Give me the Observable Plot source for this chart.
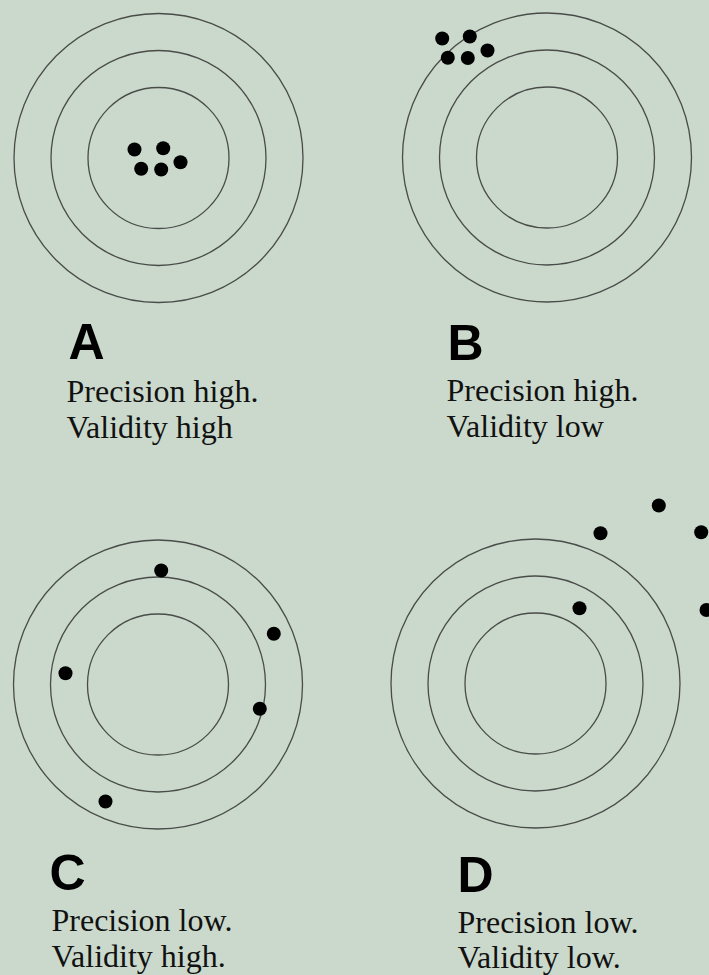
<!DOCTYPE html>
<html>
<head>
<meta charset="utf-8">
<script src="https://cdn.jsdelivr.net/npm/d3@7"></script>
<script src="https://cdn.jsdelivr.net/npm/@observablehq/plot@0.6"></script>
<style>
  html, body { margin: 0; padding: 0; background: #cad9cb; overflow: hidden; }
  #chart svg { display: block; }
</style>
</head>
<body>
<div id="chart"></div>
<script>
// ---- Data ----
const panels = ["A", "B", "C", "D"];
const precisionText = ["Precision high.", "Precision high.", "Precision low.", "Precision low."];
const validityText = ["Validity high", "Validity low", "Validity high.", "Validity low."];

// target centres and ring radii (same units as the picture)
const centerX = [158, 546.5, 157.5, 535];
const centerY = [157.5, 157, 684, 683];
const ringRadii = [70.5, 107.5, 144.5];

// hits (shots) per panel
const hitPanel = ["A","A","A","A","A", "B","B","B","B","B", "C","C","C","C","C", "D","D","D","D","D"];
const hitX = [134, 162.7, 140.7, 160.7, 180,   441.7, 469.3, 447.3, 467.3, 487,   160.7, 273.3, 65, 259.3, 105,   658.3, 600, 700.7, 579, 706];
const hitY = [149, 147.7, 168.3, 169, 161.7,   38, 36, 57.3, 57.5, 50,   570, 633.3, 672.7, 708.3, 801,   505, 532.7, 531.7, 607.7, 609.5];

// ---- Layout ----
const W = 709, H = 975;
const BG = "#cad9cb";
const labelX = [68, 447, 49, 457];
const labelY = [358, 359, 889, 891];
const captionX = [66, 446, 51, 457];
const line1Y = [401.5, 400, 930, 932];
const line2Y = [437, 436.5, 966, 967];

const centers = panels.map((p, i) => ({panel: p, x: centerX[i], y: centerY[i]}));
const hits = hitPanel.map((p, i) => ({panel: p, x: hitX[i], y: hitY[i]}));
const labels = panels.map((p, i) => ({text: p, x: labelX[i], y: labelY[i]}));
const captions = panels.flatMap((p, i) => [
  {text: precisionText[i], x: captionX[i], y: line1Y[i]},
  {text: validityText[i], x: captionX[i], y: line2Y[i]}
]);

const chart = Plot.plot({
  width: W,
  height: H,
  margin: 0,
  x: {domain: [0, W], range: [0, W], axis: null},
  y: {domain: [0, H], range: [0, H], axis: null},
  style: {background: BG, overflow: "hidden"},
  marks: [
    ...ringRadii.map(r => Plot.dot(centers, {x: "x", y: "y", r, fill: "none", stroke: "#333", strokeWidth: 1.3, strokeOpacity: 0.85})),
    Plot.dot(hits, {x: "x", y: "y", r: 7, fill: "#000", stroke: "none"}),
    Plot.text(labels, {x: "x", y: "y", text: "text", textAnchor: "start", lineAnchor: "bottom",
      fontFamily: "Liberation Sans, Arial, sans-serif", fontWeight: "bold", fontSize: 50, fill: "#000"}),
    Plot.text(captions, {x: "x", y: "y", text: "text", textAnchor: "start", lineAnchor: "bottom",
      fontFamily: "Liberation Serif, Times New Roman, serif", fontSize: 32, fill: "#111"})
  ]
});
document.getElementById("chart").appendChild(chart);
</script>
</body>
</html>
